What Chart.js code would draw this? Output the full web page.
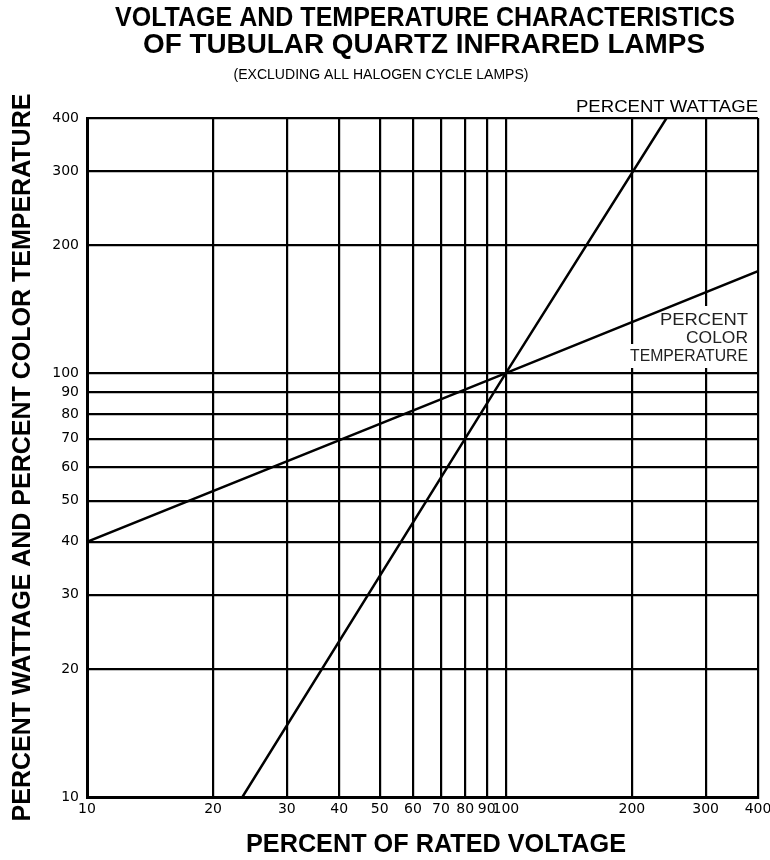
<!DOCTYPE html>
<html>
<head>
<meta charset="utf-8">
<script src="https://cdn.jsdelivr.net/npm/chart.js@4"></script>
<style>
  body { margin: 0; background: #fff; }
  canvas { display: block; }
</style>
</head>
<body>
<canvas id="chart" width="770" height="860"></canvas>
<script>
// tick values on both log axes
const xTicks = [10, 20, 30, 40, 50, 60, 70, 80, 90, 100, 200, 300, 400];
const yTicks = [10, 20, 30, 40, 50, 60, 70, 80, 90, 100, 200, 300, 400];

// (percent of rated voltage -> percent)
const wattage = [{ x: 23.5, y: 10 }, { x: 100, y: 100 }, { x: 242, y: 400 }];
const colorTemp = [{ x: 10, y: 40 }, { x: 100, y: 100 }, { x: 400, y: 174 }];

const titleLines = ['VOLTAGE AND TEMPERATURE CHARACTERISTICS', 'OF TUBULAR QUARTZ INFRARED LAMPS'];
const subTitle = '(EXCLUDING ALL HALOGEN CYCLE LAMPS)';
const xTitle = 'PERCENT OF RATED VOLTAGE';
const wattLabel = 'PERCENT WATTAGE';
const tempLabel = ['PERCENT', 'COLOR', 'TEMPERATURE'];

// draw text squeezed/stretched to a given width (the original uses a condensed face)
function fitText(ctx, text, x, y, width, align) {
    const w = ctx.measureText(text).width;
    const sx = width / w;
    ctx.save();
    ctx.textAlign = 'left';
    let left = x;
    if (align === 'center') left = x - width / 2;
    if (align === 'right') left = x - width;
    ctx.translate(left, y);
    ctx.scale(sx, 1);
    ctx.fillText(text, 0, 0);
    ctx.restore();
}

const textPlugin = {
    id: 'texts',
    beforeDatasetsDraw(chart) {
        // colour temperature label sits on white, breaking the grid behind it
        const ctx = chart.ctx;
        ctx.save();
        ctx.fillStyle = '#fff';
        ctx.fillRect(658, 306, 94, 44);
        ctx.fillRect(627, 344, 125, 24);
        ctx.fillStyle = '#222';
        ctx.textBaseline = 'middle';
        ctx.font = '16px "Liberation Sans", Arial';
        fitText(ctx, tempLabel[0], 748, 321, 88, 'right');
        fitText(ctx, tempLabel[1], 748, 339, 62, 'right');
        fitText(ctx, tempLabel[2], 748, 357, 118, 'right');
        ctx.restore();
    },
    afterDraw(chart) {
        const ctx = chart.ctx;
        const a = chart.chartArea;
        ctx.save();
        ctx.fillStyle = '#000';
        ctx.textBaseline = 'middle';
        ctx.font = 'bold 27px "Liberation Sans", Arial';
        fitText(ctx, titleLines[0], 425, 19, 620, 'center');
        fitText(ctx, titleLines[1], 424, 46, 562, 'center');
        ctx.font = '14px "Liberation Sans", Arial';
        fitText(ctx, subTitle, 381, 75, 295, 'center');
        ctx.font = '16px "Liberation Sans", Arial';
        fitText(ctx, wattLabel, a.right, a.top - 10, 182, 'right');
        ctx.font = 'bold 25px "Liberation Sans", Arial';
        fitText(ctx, xTitle, 436, 845, 380, 'center');
        ctx.restore();
    }
};

const ctx = document.getElementById('chart').getContext('2d');

new Chart(ctx, {
    type: 'line',
    data: {
        datasets: [
            {
                label: 'Percent Wattage',
                data: wattage,
                borderColor: '#000',
                borderWidth: 2.5,
                pointRadius: 0,
                tension: 0,
            },
            {
                label: 'Percent Color Temperature',
                data: colorTemp,
                borderColor: '#000',
                borderWidth: 2.5,
                pointRadius: 0,
                tension: 0,
            }
        ]
    },
    options: {
        responsive: false,
        animation: false,
        layout: { padding: { top: 118, right: 12, left: 0, bottom: 0 } },
        plugins: {
            legend: { display: false },
            tooltip: { enabled: false }
        },
        scales: {
            x: {
                type: 'logarithmic',
                min: 10,
                max: 400,
                afterBuildTicks: axis => { axis.ticks = xTicks.map(v => ({ value: v })); },
                afterFit: scale => {
                    scale.height = 63;
                    scale.paddingLeft = 0;
                    scale.paddingRight = 0;
                },
                ticks: {
                    autoSkip: false,
                    maxRotation: 0,
                    color: '#000',
                    padding: 4,
                    font: { family: '"DejaVu Sans", sans-serif', size: 14 },
                    callback: v => String(v)
                },
                grid: { color: '#000', lineWidth: 2.2, drawTicks: false },
                border: { color: '#000', width: 3 },
                title: { display: false }
            },
            y: {
                type: 'logarithmic',
                min: 10,
                max: 400,
                afterBuildTicks: axis => { axis.ticks = yTicks.map(v => ({ value: v })); },
                afterFit: scale => { scale.width = 87; },
                ticks: {
                    autoSkip: false,
                    color: '#000',
                    padding: 8,
                    font: { family: '"DejaVu Sans", sans-serif', size: 14 },
                    callback: v => String(v)
                },
                grid: { color: '#000', lineWidth: 2.2, drawTicks: false },
                border: { color: '#000', width: 3 },
                title: {
                    display: true,
                    text: 'PERCENT WATTAGE AND PERCENT COLOR TEMPERATURE',
                    color: '#000',
                    font: { family: '"Liberation Sans", Arial', size: 25, weight: 'bold' },
                    padding: { top: 8, bottom: 4 }
                }
            }
        }
    },
    plugins: [textPlugin]
});
</script>
</body>
</html>
